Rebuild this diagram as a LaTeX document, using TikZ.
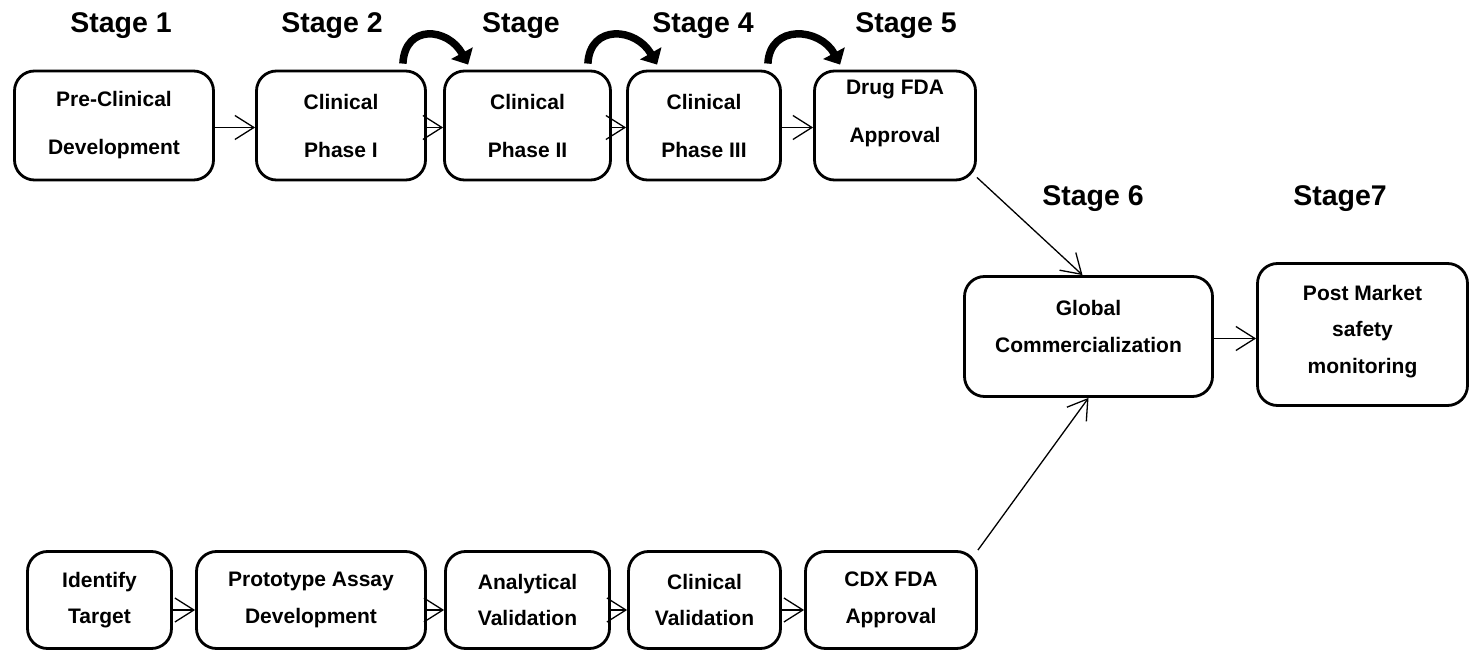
\documentclass[tikz,border=0pt]{standalone}
\usepackage{fontspec}
\setmainfont{Liberation Sans}
\usetikzlibrary{arrows.meta,calc}
\begin{document}
\begin{tikzpicture}[x=1pt,y=-1pt,
 box/.style={draw, line width=2.8pt, rounded corners=20pt, inner sep=0pt},
 btxt/.style={font=\bfseries\fontsize{21}{48}\selectfont, align=center, inner sep=0pt},
 btxs/.style={font=\bfseries\fontsize{21}{36.5}\selectfont, align=center, inner sep=0pt},
 stg/.style={font=\bfseries\fontsize{28.5}{34}\selectfont, anchor=base, inner sep=0pt},
 conn/.style={line width=1.3pt, -{Straight Barb[length=19pt,width=24pt,line width=1.3pt]}},
 hop/.style={line width=7.5pt, -{Triangle[length=13pt,width=24pt]}},
]
\useasboundingbox (0,0) rectangle (1470,652);

% stage labels
\node[stg] (s1) at (121,33) {Stage 1};
\node[stg] (s2) at (332,33) {Stage 2};
\node[stg] (s3) at (521,33) {Stage};
\node[stg] (s4) at (703,33) {Stage 4};
\node[stg] (s5) at (906,33) {Stage 5};
\node[stg] (s6) at (1093,206) {Stage 6};
\node[stg] (s7) at (1340,206) {Stage7};

% top row
\node[box, minimum width=199pt, minimum height=109pt, label={[btxt]center:Pre-Clinical\\Development}] (pre) at (114,125.5) {};
\node[box, minimum width=169pt, minimum height=109pt, label={[btxt]center:Clinical\\Phase I}] (p1) at (341,125.5) {};
\node[box, minimum width=166pt, minimum height=109pt, label={[btxt]center:Clinical\\Phase II}] (p2) at (527.5,125.5) {};
\node[box, minimum width=153pt, minimum height=109pt, label={[btxt]center:Clinical\\Phase III}] (p3) at (704,125.5) {};
\node[box, minimum width=161pt, minimum height=109pt, label={[btxt, yshift=12pt]center:Drug FDA\\Approval}] (fda) at (895,125.5) {};

% middle
\node[box, minimum width=248pt, minimum height=120pt, label={[btxs, yshift=10pt]center:Global\\Commercialization}] (glob) at (1088.5,336.5) {};
\node[box, minimum width=210pt, minimum height=142pt, label={[btxs, yshift=3pt]center:Post Market\\safety\\monitoring}] (post) at (1362.5,334.5) {};

% bottom row
\node[box, minimum width=144pt, minimum height=97pt, label={[btxs]center:Identify\\Target}] (id) at (99.5,600) {};
\node[box, minimum width=229pt, minimum height=97pt, label={[btxs]center:Prototype Assay\\Development}] (proto) at (311,600) {};
\node[box, minimum width=164pt, minimum height=97pt, label={[btxs]center:Analytical\\Validation}] (anal) at (527.5,600) {};
\node[box, minimum width=152pt, minimum height=97pt, label={[btxs]center:Clinical\\Validation}] (cval) at (704.5,600) {};
\node[box, minimum width=171pt, minimum height=97pt, label={[btxs]center:CDX FDA\\Approval}] (cdx) at (891,600) {};

% top row connectors
\draw[conn] ([yshift=-2pt]pre.east) -- ([yshift=-2pt]p1.west);
\draw[conn] ([yshift=-2pt]p1.east) -- ([yshift=-2pt]p2.west);
\draw[conn] ([yshift=-2pt]p2.east) -- ([yshift=-2pt]p3.west);
\draw[conn] ([yshift=-2pt]p3.east) -- ([yshift=-2pt]fda.west);

% bottom row connectors
\draw[conn] ([yshift=-10pt]id.east) -- ([yshift=-10pt]proto.west);
\draw[conn] ([yshift=-10pt]proto.east) -- ([yshift=-10pt]anal.west);
\draw[conn] ([yshift=-10pt]anal.east) -- ([yshift=-10pt]cval.west);
\draw[conn] ([yshift=-10pt]cval.east) -- ([yshift=-10pt]cdx.west);

% to commercialization and beyond
\draw[conn] ([yshift=4pt]fda.south east) -- ([xshift=-6pt]glob.north);
\draw[conn] (cdx.north east) -- (glob.south);
\draw[conn] ([yshift=-2pt]glob.east) -- ([yshift=-2pt]glob.east -| post.west);

% curved hop arrows
\draw[hop] ($(p1.north east)+(-24,-6)$) .. controls ($(p1.north east)+(-22,-46)$) and ($(p2.north west)+(5,-42)$) .. ($(p2.north west)+(25,-5)$);
\draw[hop] ($(p2.north east)+(-24,-6)$) .. controls ($(p2.north east)+(-22,-46)$) and ($(p3.north west)+(10,-42)$) .. ($(p3.north west)+(31,-5)$);
\draw[hop] ($(p3.north east)+(-14,-6)$) .. controls ($(p3.north east)+(-12,-46)$) and ($(fda.north west)+(7,-42)$) .. ($(fda.north west)+(27,-5)$);
\end{tikzpicture}
\end{document}
